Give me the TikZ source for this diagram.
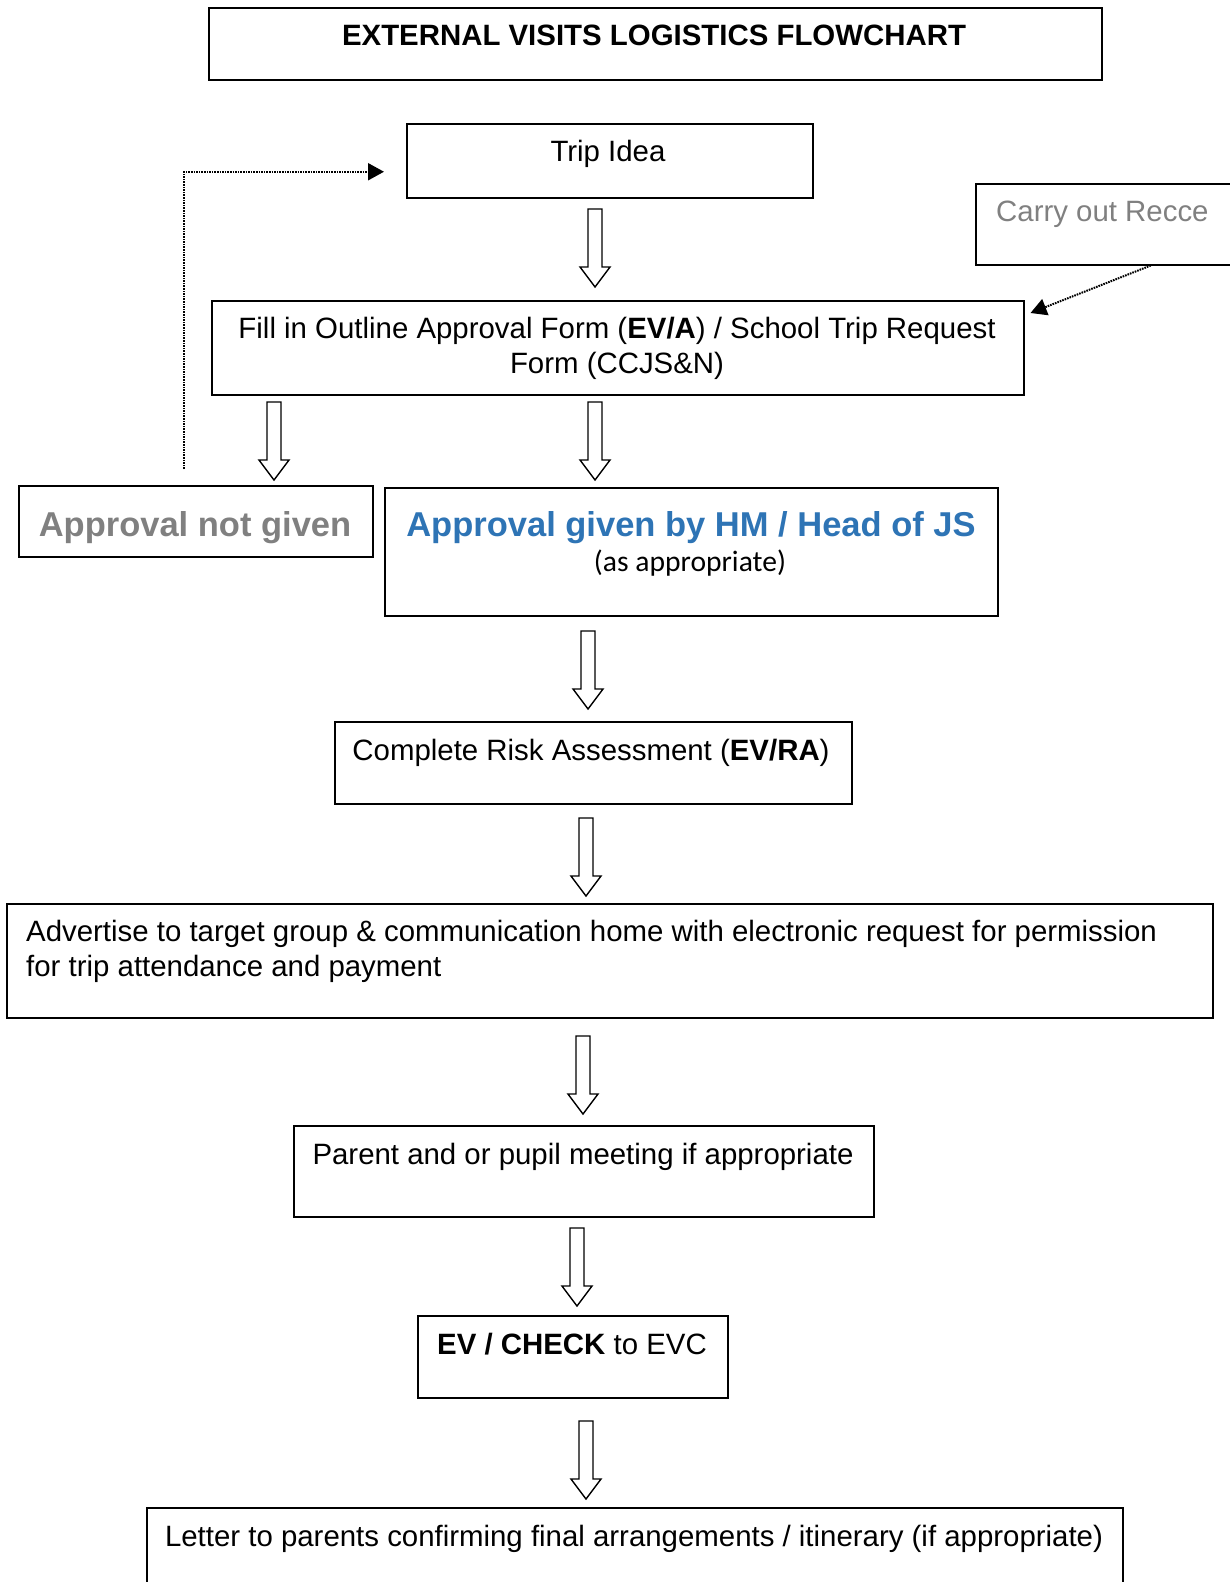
\documentclass[tikz,border=0pt]{standalone}
\usepackage{fontspec}
\setmainfont{Liberation Sans}
\newfontfamily\calibri{Carlito}
\usetikzlibrary{arrows.meta}
\definecolor{approvalblue}{HTML}{2E74B5}
\definecolor{notegray}{HTML}{808080}
\tikzset{
  box/.style={draw, line width=1.5pt, anchor=north west, inner sep=0pt},
  txt/.style={anchor=base, inner sep=0pt, font=\fontsize{29.4}{35}\selectfont},
  big/.style={anchor=base, inner sep=0pt, font=\fontsize{34.5}{40}\selectfont\bfseries},
  backlink/.style={line width=2pt, dash pattern=on 1.6pt off 1pt,
    -{Triangle[length=16pt,width=17pt]}},
  pics/flowdown/.style={code={
    \draw[line width=1.4pt, fill=white]
      (-7,0) -- (7,0) -- (7,58) -- (15,58) -- (0,78) -- (-15,58) -- (-7,58) -- cycle;}}
}
\begin{document}
\begin{tikzpicture}[x=1pt,y=-1pt]
	\useasboundingbox (0,0) rectangle (1229,1582);
	% boxes
	\node[box, minimum width=893pt, minimum height=72pt] (title) at (208,7) {};
	\node[box, minimum width=406pt, minimum height=74pt] (trip) at (406,123) {};
	\node[box, minimum width=270pt, minimum height=81pt] (recce) at (975,183) {};
	\node[box, minimum width=812pt, minimum height=94pt] (fill) at (211,300) {};
	\node[box, minimum width=354pt, minimum height=71pt] (notgiven) at (18,485) {};
	\node[box, minimum width=613pt, minimum height=128pt] (given) at (384,487) {};
	\node[box, minimum width=517pt, minimum height=82pt] (risk) at (334,721) {};
	\node[box, minimum width=1206pt, minimum height=114pt] (advert) at (6,903) {};
	\node[box, minimum width=580pt, minimum height=91pt] (parent) at (293,1125) {};
	\node[box, minimum width=310pt, minimum height=82pt] (evc) at (417,1315) {};
	\node[box, minimum width=976pt, minimum height=100pt] (letter) at (146,1507) {};
	% texts
	\node[txt, font=\fontsize{29.4}{35}\selectfont\bfseries] (titleT) at (654,45) {EXTERNAL VISITS LOGISTICS FLOWCHART};
	\node[txt] (tripT) at (608,161) {Trip Idea};
	\node[txt, anchor=base west, text=notegray] (recceT) at (996,221) {Carry out Recce};
	\node[txt, anchor=north, align=center] (fillT) at (617,317)
		{Fill in Outline Approval Form (\textbf{EV/A}) / School Trip Request\\Form (CCJS\&N)};
	\node[big, text=notegray] (notgivenT) at (195,536) {Approval not given};
	\node[big, text=approvalblue] (givenT) at (691,536) {Approval given by HM / Head of JS};
	\node[txt, font=\calibri\fontsize{29.6}{36}\selectfont] (asT) at (690,571) {(as appropriate)};
	\node[txt] (riskT) at (591,760) {Complete Risk Assessment (\textbf{EV/RA})};
	\node[txt, anchor=north west, align=left] (advertT) at (26,920)
		{Advertise to target group \& communication home with electronic request for permission\\for trip attendance and payment};
	\node[txt] (parentT) at (583,1164) {Parent and or pupil meeting if appropriate};
	\node[txt] (evcT) at (572,1354) {\textbf{EV / CHECK} to EVC};
	\node[txt] (letterT) at (634,1546) {Letter to parents confirming final arrangements / itinerary (if appropriate)};
	% block arrows
	\pic (a1) at (595,209) {flowdown};
	\pic (a2) at (274,402) {flowdown};
	\pic (a3) at (595,402) {flowdown};
	\pic (a4) at (588,631) {flowdown};
	\pic (a5) at (586,818) {flowdown};
	\pic (a6) at (583,1036) {flowdown};
	\pic (a7) at (577,1228) {flowdown};
	\pic (a8) at (586,1421) {flowdown};
	% dotted links
	\coordinate (loopstart) at (184,469);
	\draw[backlink] (loopstart) |- ([xshift=-22pt,yshift=-11pt]trip.west);
	\draw[backlink] ([xshift=40pt]recce.south) -- ([xshift=6pt,yshift=-13pt]fill.north east);
\end{tikzpicture}
\end{document}
